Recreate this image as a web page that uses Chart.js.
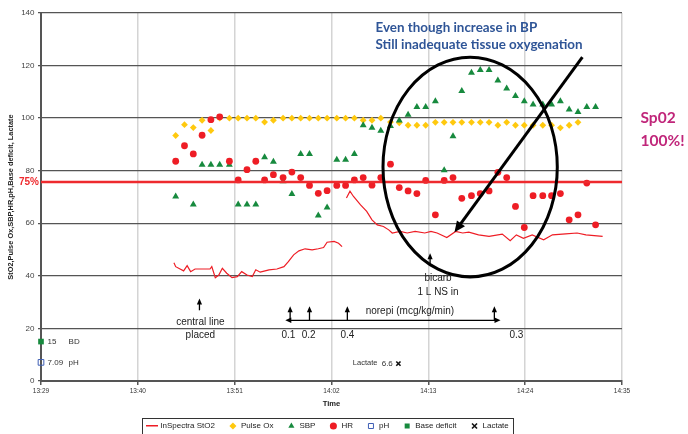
<!DOCTYPE html>
<html>
<head>
<meta charset="utf-8">
<script src="https://cdn.jsdelivr.net/npm/chart.js@4.4.1/dist/chart.umd.min.js"></script>
<style>
  html, body { margin: 0; padding: 0; background: #fff; }
  #wrap { width: 688px; height: 434px; }
</style>
</head>
<body>
<div id="wrap"><canvas id="chart" width="688" height="434"></canvas></div>
<script>
(() => {
    'use strict';

    // time is in minutes after 13:00
    const timeTicks = ['13:29', '13:40', '13:51', '14:02', '14:13', '14:24', '14:35'];

    const stO2Times = [44.1, 44.3, 44.8, 45.2, 45.6, 46.0, 46.5, 47.3, 48.2, 48.4,
        48.8, 49.2, 49.6, 50.1, 50.7, 51.3, 51.8, 52.4, 53.0, 53.4,
        53.9, 54.9, 55.8, 56.6, 57.1, 57.7, 58.3, 59.0, 59.8, 60.5,
        61.1, 61.5, 62.3, 62.8, 63.2, 63.45, 63.7, 64.1, 64.5, 65.3,
        66.0, 66.6, 67.2, 67.9, 68.5, 68.9, 69.8, 70.6, 71.5, 72.6,
        73.3, 74.0, 75.1, 76.1, 76.9, 77.6, 78.7, 79.9, 81.4, 82.3,
        83.0, 83.8, 84.8, 86.1, 87.1, 88.6, 89.9, 90.9, 92.8];
    const stO2Values = [45.0, 43.5, 42.6, 41.9, 43.9, 41.6, 42.6, 42.6, 42.6, 43.5,
        39.3, 40.3, 42.9, 41.0, 39.3, 39.7, 41.6, 40.3, 39.7, 42.3,
        41.4, 42.3, 42.6, 43.5, 45.4, 48.0, 49.5, 50.3, 49.9, 50.3,
        50.8, 52.8, 53.1, 52.4, 51.1, null, 69.6, 72.2, 70.2, 67.0,
        64.5, 61.3, 59.4, 58.8, 57.5, 56.3, 56.9, 56.3, 56.9, 56.3,
        56.9, 56.3, 54.6, 56.9, 56.3, 56.6, 55.6, 55.0, 55.9, 53.4,
        55.6, 54.3, 55.6, 53.7, 55.6, 56.0, 56.3, 55.6, 55.0];

    const vitalTimes = [44.3, 45.3, 46.3, 47.3, 48.3, 49.3, 50.4, 51.4, 52.4, 53.4,
        54.4, 55.4, 56.5, 57.5, 58.5, 59.5, 60.5, 61.5, 62.6, 63.6,
        64.6, 65.6, 66.6, 67.6, 68.7, 69.7, 70.7, 71.7, 72.7, 73.8,
        74.8, 75.8, 76.8, 77.9, 78.9, 79.9, 80.9, 81.9, 82.9, 83.9,
        84.9, 86.0, 87.0, 88.0, 89.0, 90.0, 91.0, 92.0];
    const pulseOx = [93.4, 97.5, 96.4, 99.2, 95.3, 100, 100, 100, 100, 100,
        98.5, 99.2, 100, 100, 100, 100, 100, 100, 100, 100,
        100, 99.2, 99.2, 100, 98.5, 98.2, 97.3, 97.3, 97.3, 98.4,
        98.4, 98.4, 98.4, 98.4, 98.4, 98.4, 97.3, 98.4, 97.3, 97.3,
        97.3, 97.3, 97.3, 96.3, 97.3, 98.4, null, null];
    const sbp = [70.2, null, 67.1, 82.3, 82.3, 82.3, 82.3, 67.1, 67.1, 67.1,
        85.1, 83.4, 76, 71.1, 86.4, 86.4, 63, 66, 84.2, 84.2,
        86.4, 97.3, 96.3, 95.2, 97, 99.1, 101.3, 104.2, 104.2, 106.4,
        80.2, 93.1, 110.3, 117.3, 118.3, 118.3, 114.3, 111.3, 108.4, 106.4,
        105.2, 105.2, 105.2, 106.4, 103.3, 102.3, 104.2, 104.2];
    const hr = [83.6, 89.5, 86.4, 93.5, 99.4, 100.5, 83.6, 76.5, 80.4, 83.6,
        76.5, 78.5, 77.4, 79.5, 77.4, 74.4, 71.4, 72.4, 74.4, 74.4,
        76.5, 77.4, 74.5, 77.4, 82.5, 73.6, 72.3, 71.3, 76.3, 63.2,
        76.3, 77.4, 69.5, 70.5, 71.3, 72.3, 79.4, 77.4, 66.4, 58.4,
        70.5, 70.5, 70.5, 71.3, 61.3, 63.2, 75.3, 59.4];

    const phTimes = [29];
    const phValues = [7.09];
    const bdTimes = [29];
    const bdValues = [15];
    const lactateTimes = [69.6];
    const lactateValues = [6.6];

    const threshold = 75.7;

    const FONT = 'Arial, "Liberation Sans", sans-serif';
    const red = '#ee1d25';
    const green = '#178a3e';
    const yellow = '#ffc90e';
    const blue = '#3f5fb5';

    const pairs = (xs, ys) => xs.map((x, i) => ({ x, y: ys[i] }));

    // short red stroke for the StO2 legend entry
    const lineSwatch = document.createElement('canvas');
    lineSwatch.width = 12;
    lineSwatch.height = 2;
    const sw = lineSwatch.getContext('2d');
    sw.fillStyle = red;
    sw.fillRect(0, 0, 12, 1.5);

    const datasets = [
        { label: 'InSpectra StO2', data: pairs(stO2Times, stO2Values), showLine: true, spanGaps: false,
          borderColor: red, backgroundColor: red, borderWidth: 1.2, pointRadius: 0, pointStyle: lineSwatch, order: 6 },
        { label: 'Pulse Ox', data: pairs(vitalTimes, pulseOx), pointStyle: 'rectRot', pointRadius: 3.4,
          backgroundColor: yellow, borderColor: yellow, borderWidth: 0, order: 5 },
        { label: 'SBP', data: pairs(vitalTimes, sbp), pointStyle: 'triangle', pointRadius: 4,
          backgroundColor: green, borderColor: green, borderWidth: 0, order: 4 },
        { label: 'HR', data: pairs(vitalTimes, hr), pointStyle: 'circle', pointRadius: 3.4,
          backgroundColor: red, borderColor: red, borderWidth: 0, order: 3 },
        { label: 'pH', data: pairs(phTimes, phValues), pointStyle: 'rect', pointRadius: 4, clip: false,
          backgroundColor: 'rgba(0,0,0,0)', borderColor: blue, borderWidth: 1, order: 2 },
        { label: 'Base deficit', data: pairs(bdTimes, bdValues), pointStyle: 'rect', pointRadius: 4, clip: false,
          backgroundColor: green, borderColor: green, borderWidth: 0, order: 1 },
        { label: 'Lactate', data: pairs(lactateTimes, lactateValues), pointStyle: 'crossRot', pointRadius: 3,
          backgroundColor: '#111', borderColor: '#111', borderWidth: 1.6, order: 0 }
    ];

    const upArrow = (ctx, x, yBase, yTip) => {
        ctx.beginPath();
        ctx.moveTo(x, yBase);
        ctx.lineTo(x, yTip + 4);
        ctx.stroke();
        ctx.beginPath();
        ctx.moveTo(x, yTip);
        ctx.lineTo(x - 2.6, yTip + 6);
        ctx.lineTo(x + 2.6, yTip + 6);
        ctx.closePath();
        ctx.fill();
    };

    const notes = {
        id: 'notes',
        afterDatasetsDraw(chart) {
            const { ctx, chartArea, scales: { x, y } } = chart;
            const px = t => x.getPixelForValue(t);
            const py = v => y.getPixelForValue(v);
            ctx.save();

            // 75% reference line
            ctx.strokeStyle = '#ee2a2e';
            ctx.lineWidth = 2.6;
            ctx.beginPath();
            ctx.moveTo(chartArea.left, py(threshold));
            ctx.lineTo(chartArea.right, py(threshold));
            ctx.stroke();
            ctx.fillStyle = '#ee2a2e';
            ctx.font = 'bold 10px ' + FONT;
            ctx.textAlign = 'right';
            ctx.textBaseline = 'middle';
            ctx.fillText('75%', chartArea.left - 2, py(threshold));

            // ellipse + long arrow
            ctx.strokeStyle = '#000';
            ctx.lineWidth = 3;
            ctx.beginPath();
            ctx.ellipse(px(77.75), py(81.4), px(87.65) - px(77.75), py(81.4) - py(123.2), 0, 0, Math.PI * 2);
            ctx.stroke();

            const ax0 = px(90.5), ay0 = py(123.2), ax1 = px(75.97), ay1 = py(56.6);
            const ang = Math.atan2(ay1 - ay0, ax1 - ax0);
            ctx.beginPath();
            ctx.moveTo(ax0, ay0);
            ctx.lineTo(ax1 - Math.cos(ang) * 6, ay1 - Math.sin(ang) * 6);
            ctx.stroke();
            ctx.fillStyle = '#000';
            ctx.beginPath();
            ctx.moveTo(ax1, ay1);
            ctx.lineTo(ax1 - Math.cos(ang) * 11 + Math.sin(ang) * 5, ay1 - Math.sin(ang) * 11 - Math.cos(ang) * 5);
            ctx.lineTo(ax1 - Math.cos(ang) * 11 - Math.sin(ang) * 5, ay1 - Math.sin(ang) * 11 + Math.cos(ang) * 5);
            ctx.closePath();
            ctx.fill();

            // event arrows
            ctx.lineWidth = 1.3;
            upArrow(ctx, px(47.0), py(26.9), py(31.4));
            upArrow(ctx, px(73.2), py(44.0), py(48.6));
            [57.3, 59.5, 63.8, 80.5].forEach(t => upArrow(ctx, px(t), py(23.1), py(28.4)));

            // norepi range arrow
            const ny = py(23.1), nx0 = px(56.75), nx1 = px(81.2);
            ctx.beginPath();
            ctx.moveTo(nx0 + 3, ny);
            ctx.lineTo(nx1 - 3, ny);
            ctx.stroke();
            ctx.beginPath();
            ctx.moveTo(nx0, ny); ctx.lineTo(nx0 + 6, ny - 2.8); ctx.lineTo(nx0 + 6, ny + 2.8); ctx.closePath();
            ctx.fill();
            ctx.beginPath();
            ctx.moveTo(nx1, ny); ctx.lineTo(nx1 - 6, ny - 2.8); ctx.lineTo(nx1 - 6, ny + 2.8); ctx.closePath();
            ctx.fill();

            ctx.fillStyle = '#222';
            ctx.font = '10px ' + FONT;
            ctx.textAlign = 'center';
            ctx.fillText('central line', px(47.1), py(22.5));
            ctx.fillText('placed', px(47.1), py(17.4));
            ctx.fillText('bicarb', px(74.1), py(38.9));
            ctx.fillText('1 L NS in', px(74.1), py(33.9));
            ctx.fillText('norepi (mcg/kg/min)', px(70.9), py(26.6));
            ctx.fillText('0.1', px(57.1), py(17.4));
            ctx.fillText('0.2', px(59.4), py(17.4));
            ctx.fillText('0.4', px(63.8), py(17.4));
            ctx.fillText('0.3', px(83.0), py(17.4));

            // lab value labels next to their points
            ctx.fillStyle = '#333';
            ctx.textAlign = 'left';
            ctx.font = '8px ' + FONT;
            const bd = chart.getDatasetMeta(5).data[0];
            ctx.fillText(String(bdValues[0]), bd.x + 6.6, bd.y);
            ctx.fillText('BD', bd.x + 27.6, bd.y);
            const ph = chart.getDatasetMeta(4).data[0];
            ctx.fillText(phValues[0].toFixed(2), ph.x + 6.6, ph.y);
            ctx.fillText('pH', ph.x + 27.6, ph.y);
            const lac = chart.getDatasetMeta(6).data[0];
            ctx.textAlign = 'right';
            ctx.fillText(lactateValues[0].toFixed(1), lac.x - 5.6, lac.y);
            ctx.font = '7.5px ' + FONT;
            ctx.fillText('Lactate', lac.x - 21, lac.y - 1);

            // callouts
            ctx.textAlign = 'left';
            ctx.fillStyle = '#2f5597';
            ctx.font = 'bold 13.4px Lato, sans-serif';
            ctx.fillText('Even though increase in BP', px(67.0), py(134.5));
            ctx.fillText('Still inadequate tissue oxygenation', px(67.0), py(128.1));
            ctx.fillStyle = '#c0267a';
            ctx.font = 'bold 15.5px Lato, sans-serif';
            ctx.fillText('Sp02', px(97.1), py(99.9));
            ctx.fillText('100%!', px(97.1), py(91.2));
            ctx.restore();
        }
    };

    // legend sits centred under the plot area, not under the whole canvas, and has a frame
    const legendFrame = {
        id: 'legendFrame',
        afterUpdate(chart) {
            const lg = chart.legend;
            if (!lg || !lg.legendHitBoxes) return;
            const shift = (chart.chartArea.left + chart.chartArea.right) / 2 - (lg.left + lg.right) / 2 - 3;
            lg.left += shift;
            lg.right += shift;
            lg.legendHitBoxes.forEach(b => { b.left += shift; });
        },
        afterDraw(chart) {
            const boxes = chart.legend && chart.legend.legendHitBoxes;
            if (!boxes || !boxes.length) return;
            const left = Math.min(...boxes.map(b => b.left)) - 6;
            const right = Math.max(...boxes.map(b => b.left + b.width)) + 4;
            const top = Math.min(...boxes.map(b => b.top)) - 4.5;
            const bottom = Math.max(...boxes.map(b => b.top + b.height)) + 3.5;
            const { ctx } = chart;
            ctx.save();
            ctx.strokeStyle = '#333';
            ctx.lineWidth = 1;
            ctx.strokeRect(Math.round(left) + 0.5, Math.round(top) + 0.5, Math.round(right - left), Math.round(bottom - top));
            ctx.restore();
        }
    };

    new Chart(document.getElementById('chart'), {
        type: 'scatter',
        data: { datasets },
        options: {
            responsive: false,
            animation: false,
            events: [],
            layout: { padding: { top: 13, right: 66, bottom: -6, left: 0 } },
            plugins: {
                tooltip: { enabled: false },
                legend: {
                    position: 'bottom',
                    labels: {
                        usePointStyle: true,
                        boxWidth: 8,
                        boxHeight: 5,
                        padding: 14,
                        color: '#222',
                        font: { size: 8, family: FONT },
                        sort: (a, b) => a.datasetIndex - b.datasetIndex
                    }
                }
            },
            scales: {
                x: {
                    type: 'linear',
                    min: 29,
                    max: 95,
                    afterFit: s => { s.height = 27; },
                    ticks: {
                        stepSize: 11,
                        autoSkip: false,
                        maxRotation: 0,
                        padding: 2,
                        color: '#333',
                        font: { size: 6.5, family: FONT },
                        callback: (v, i) => timeTicks[i]
                    },
                    grid: { color: '#d4d4d4', lineWidth: 1.5, tickColor: '#555', tickLength: 4 },
                    border: { color: '#555', width: 2 },
                    title: { display: true, text: 'Time', color: '#222', font: { size: 7.6, weight: 'bold', family: FONT }, padding: { top: 0, bottom: 0 } }
                },
                y: {
                    min: 0,
                    max: 140,
                    afterFit: s => { s.width = 41; },
                    ticks: { stepSize: 20, padding: 3.5, color: '#444', font: { size: 8, family: FONT } },
                    grid: { color: '#555', lineWidth: 1.3, tickColor: '#555', tickLength: 3 },
                    border: { color: '#555', width: 2 },
                    title: {
                        display: true,
                        text: 'StO2,Pulse Ox,SBP,HR,pH,Base deficit, Lactate',
                        color: '#222',
                        font: { size: 7.4, weight: 'bold', family: FONT },
                        padding: { top: 7, bottom: 0 }
                    }
                }
            }
        },
        plugins: [notes, legendFrame]
    });
})();
</script>
</body>
</html>
